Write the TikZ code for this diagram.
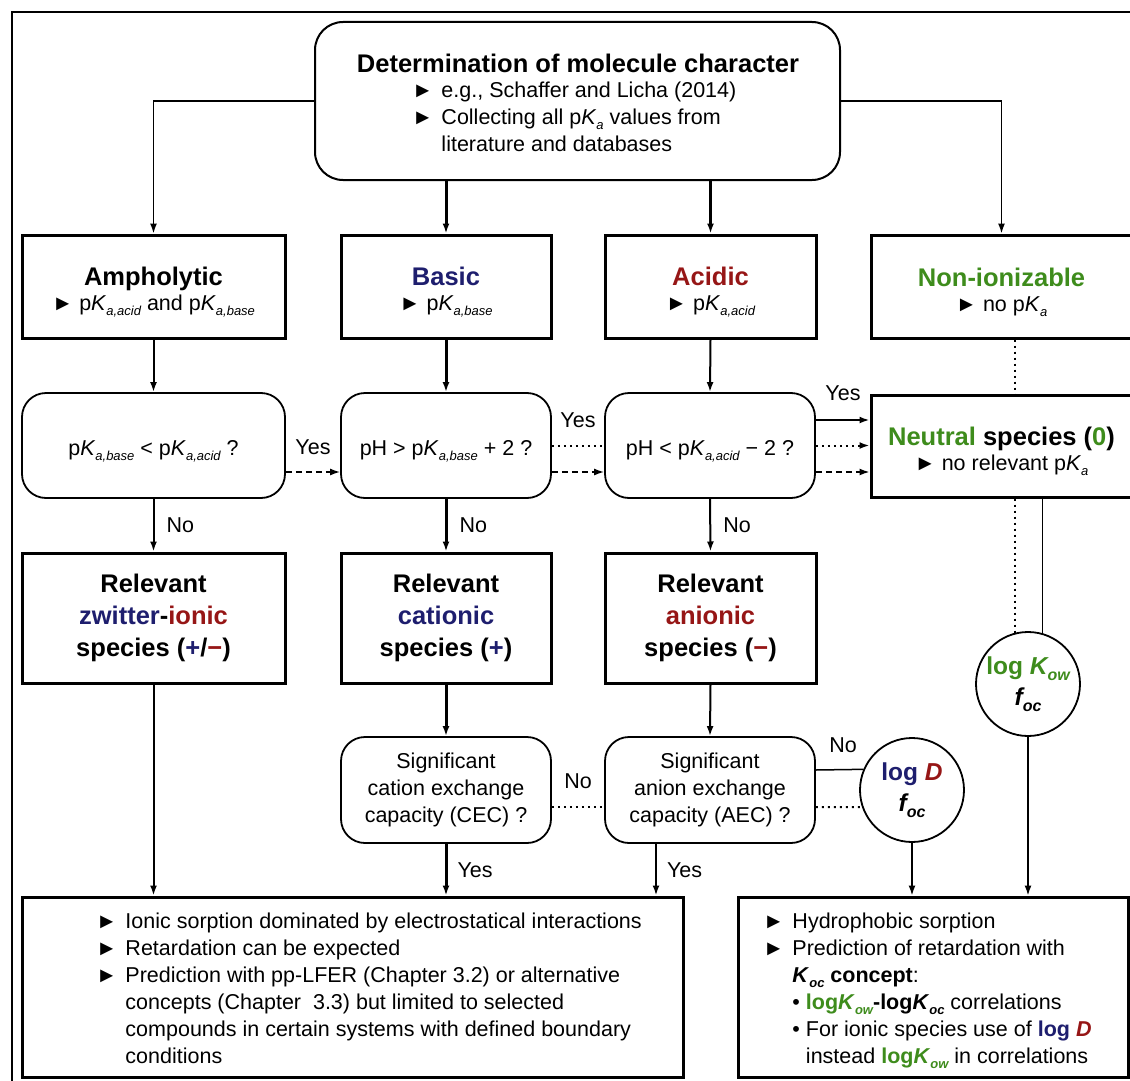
\documentclass[tikz,border=0pt]{standalone}
\usepackage{fontspec}
\setmainfont{Liberation Sans}
\usetikzlibrary{arrows.meta}
\definecolor{navy}{RGB}{30,30,110}
\definecolor{dred}{RGB}{150,22,22}
\definecolor{dgreen}{RGB}{62,140,28}
\newcommand\bodyf{\fontsize{21.5}{27}\selectfont}
\newcommand\headf{\fontsize{25.5}{32}\selectfont\bfseries}
\newcommand\circf{\fontsize{24.5}{30}\selectfont\bfseries}
\newcommand\sub[1]{\raisebox{-5pt}{\fontsize{13}{13}\selectfont\itshape #1}}
\newcommand\bsub[1]{\raisebox{-6pt}{\fontsize{16}{16}\selectfont\itshape #1}}
\newcommand\pK[1]{p\textit{K}\sub{#1}}
\newcommand\tri{►}
\newcommand\up[1]{\rule{0pt}{#1}}
\begin{document}
\begin{tikzpicture}[x=1pt,y=-1pt,
  mainbox/.style={draw, line width=3pt, inner sep=0pt, align=center, font=\bodyf},
  decbox/.style={draw, line width=1.8pt, rounded corners=24pt, inner sep=0pt, align=center, font=\bodyf},
  circ/.style={draw, circle, line width=1.8pt, minimum size=104pt, inner sep=0pt, align=center, font=\circf},
  arr/.style={-{Latex[length=10pt,width=7pt]}, line width=2pt},
  tarr/.style={-{Latex[length=10pt,width=7pt]}, line width=3pt},
  harr/.style={-{Latex[length=10pt,width=7pt]}, line width=1.5pt},
  dotline/.style={line width=2pt, dash pattern=on 2pt off 4pt},
  lbl/.style={font=\bodyf, inner sep=0pt}
]
\useasboundingbox (0,0) rectangle (1130,1081);
\fill[white] (0,0) rectangle (1130,1081);
\draw[line width=2pt] (12,1095) -- (12,12) -- (1145,12);

% top box
\node[decbox, line width=2pt, rounded corners=28pt, minimum width=525pt, minimum height=158pt] (top) at (577.5,101) {};
\node[lbl, font=\headf] (toptitle) at (578,63) {Determination of molecule character};
\node[lbl, anchor=north west] (toptext) at (412,78) {\begin{tabular}{@{}l@{\hspace{8pt}}l@{}}
\tri & e.g., Schaffer and Licha (2014)\\
\tri & Collecting all \pK{a} values from\\
 & literature and databases
\end{tabular}};

% row 1
\node[mainbox, minimum width=263pt, minimum height=103pt] (ampho) at (153.5,286.5)
  {\up{30pt}{\headf Ampholytic}\\[-2pt] \tri\ \pK{a,acid} and \pK{a,base}};
\node[mainbox, minimum width=210pt, minimum height=103pt] (basic) at (446,286.5)
  {\up{30pt}{\headf\color{navy} Basic}\\[-2pt] \tri\ \pK{a,base}};
\node[mainbox, minimum width=211pt, minimum height=103pt] (acidic) at (710.5,286.5)
  {\up{30pt}{\headf\color{dred} Acidic}\\[-2pt] \tri\ \pK{a,acid}};
\node[mainbox, minimum width=261pt, minimum height=103pt] (nonion) at (1001.5,286.5)
  {\up{30pt}{\headf\color{dgreen} Non-ionizable}\\[-2pt] \tri\ no \pK{a}};

% row 2
\node[decbox, minimum width=263pt, minimum height=105pt] (dec1) at (153.5,445.5)
  {\up{26pt}\pK{a,base} < \pK{a,acid} ?};
\node[decbox, minimum width=210pt, minimum height=105pt] (dec2) at (446,445.5)
  {\up{26pt}pH > \pK{a,base} + 2 ?};
\node[decbox, minimum width=210pt, minimum height=105pt] (dec3) at (710,445.5)
  {\up{26pt}pH < \pK{a,acid} − 2 ?};
\node[mainbox, minimum width=261pt, minimum height=102pt] (neutral) at (1001.5,446)
  {\up{29pt}{\headf{\color{dgreen}Neutral} species ({\color{dgreen}0})}\\[-2pt] \tri\ no relevant \pK{a}};

% row 3
\node[mainbox, minimum width=263pt, minimum height=130pt, font=\headf] (rel1) at (153.5,618)
  {Relevant\\ {\color{navy}zwitter}-{\color{dred}ionic}\\ species ({\color{navy}+}/{\color{dred}−})};
\node[mainbox, minimum width=210pt, minimum height=130pt, font=\headf] (rel2) at (446,618)
  {Relevant\\ {\color{navy}cationic}\\ species ({\color{navy}+})};
\node[mainbox, minimum width=211pt, minimum height=130pt, font=\headf] (rel3) at (710.5,618)
  {Relevant\\ {\color{dred}anionic}\\ species ({\color{dred}−})};

% row 4
\node[decbox, minimum width=210pt, minimum height=106pt] (cec) at (446,790)
  {Significant\\ cation exchange\\ capacity (CEC) ?};
\node[decbox, minimum width=210pt, minimum height=106pt] (aec) at (710,790)
  {Significant\\ anion exchange\\ capacity (AEC) ?};
\node[circ] (logd) at (912,790)
  {{\color{navy}log} {\color{dred}\itshape D}\\[1pt] \itshape f\bsub{oc}};
\node[circ] (kow) at (1028,684)
  {{\color{dgreen}log \itshape K\bsub{ow}}\\[1pt] \itshape f\bsub{oc}};

% bottom boxes
\node[mainbox, minimum width=661pt, minimum height=180pt] (bleft) at (352.5,987) {};
\node[mainbox, minimum width=390pt, minimum height=180pt] (bright) at (933,987) {};
\node[lbl, anchor=north west] (bltext) at (96,909) {\begin{tabular}{@{}l@{\hspace{8pt}}l@{}}
\tri & Ionic sorption dominated by electrostatical interactions\\
\tri & Retardation can be expected\\
\tri & Prediction with pp-LFER (Chapter 3.2) or alternative\\
 & concepts (Chapter\ \ 3.3) but limited to selected\\
 & compounds in certain systems with defined boundary\\
 & conditions
\end{tabular}};
\node[lbl, anchor=north west] (brtext) at (763,909) {\begin{tabular}{@{}l@{\hspace{8pt}}l@{}}
\tri & Hydrophobic sorption\\
\tri & Prediction of retardation with\\
 & \textbf{\textit{K}\sub{oc} concept}:\\
 & • {\color{dgreen}\textbf{log\textit{K}\sub{ow}}}\textbf{-log\textit{K}\sub{oc}} correlations\\
 & • For ionic species use of {\color{navy}\textbf{log}} {\color{dred}\textbf{\textit{D}}}\\
 & \phantom{• }instead {\color{dgreen}\textbf{log\textit{K}\sub{ow}}} in correlations
\end{tabular}};

% connectors from top
\draw[harr] (top.west) -| (ampho.north);
\draw[harr] (top.east) -| (nonion.north);
\draw[tarr] (top.south -| basic.north) -- (basic.north);
\draw[arr, line width=2.5pt] (top.south -| acidic.north) -- (acidic.north);

% row1 -> row2
\draw[arr] (ampho.south) -- (dec1.north);
\draw[tarr] (basic.south) -- (dec2.north);
\draw[arr] (acidic.south) -- (dec3.north);
\draw[dotline] ([xshift=13.5pt]nonion.south) -- ([xshift=13.5pt]neutral.north);

% row2 -> row3
\draw[arr] (dec1.south) -- node[lbl, right=12pt] (no1) {No} (rel1.north);
\draw[tarr] (dec2.south) -- node[lbl, right=12pt] (no2) {No} (rel2.north);
\draw[arr] (dec3.south) -- node[lbl, right=12pt] (no3) {No} (rel3.north);

% horizontal yes connectors
\draw[harr, dash pattern=on 6pt off 4pt] ([yshift=-26.5pt]dec1.east) -- ([yshift=-26.5pt]dec2.west);
\node[lbl] (yes1) at (313,447) {Yes};
\draw[dotline] (dec2.east) -- (dec3.west);
\draw[harr, dash pattern=on 6pt off 4pt] ([yshift=-26.5pt]dec2.east) -- ([yshift=-26.5pt]dec3.west);
\node[lbl] (yes2) at (578,420) {Yes};
\draw[arr] ([yshift=25.5pt]dec3.east) -- ([yshift=25.5pt]dec3.east -| neutral.west);
\node[lbl] (yes3) at (843,393) {Yes};
\draw[harr, dash pattern=on 2pt off 4pt, line width=2pt] (dec3.east) -- (dec3.east -| neutral.west);
\draw[harr, dash pattern=on 6pt off 4pt] ([yshift=-26.5pt]dec3.east) -- ([yshift=-26.5pt]dec3.east -| neutral.west);

% row3 -> row4
\draw[tarr] (rel2.south) -- (cec.north);
\draw[arr] (rel3.south) -- (aec.north);

% cec/aec
\draw[dotline] ([yshift=-17pt]cec.east) -- ([yshift=-17pt]aec.west);
\node[lbl] (no4) at (578,781) {No};
\draw[line width=1.5pt] ([yshift=20pt]aec.east) -- (logd.157.4);
\node[lbl] (no5) at (843,745) {No};
\draw[dotline] ([yshift=-17pt]aec.east) -- (logd.199.1);

% neutral -> kow
\draw[dotline] (neutral.south -| kow.104.5) -- (kow.104.5);
\draw[line width=1.5pt] (neutral.south -| kow.74.4) -- (kow.74.4);

% to bottom boxes
\draw[arr] (rel1.south) -- (rel1.south |- bleft.north);
\draw[tarr] (cec.south) -- node[lbl, right=10pt] (yes4) {Yes} (cec.south |- bleft.north);
\draw[arr] ([xshift=-54pt]aec.south) -- node[lbl, right=10pt] (yes5) {Yes} ([xshift=-54pt]aec.south |- bleft.north);
\draw[harr] (logd.south) -- (logd.south |- bright.north);
\draw[harr] (kow.south) -- (kow.south |- bright.north);
\end{tikzpicture}
\end{document}
